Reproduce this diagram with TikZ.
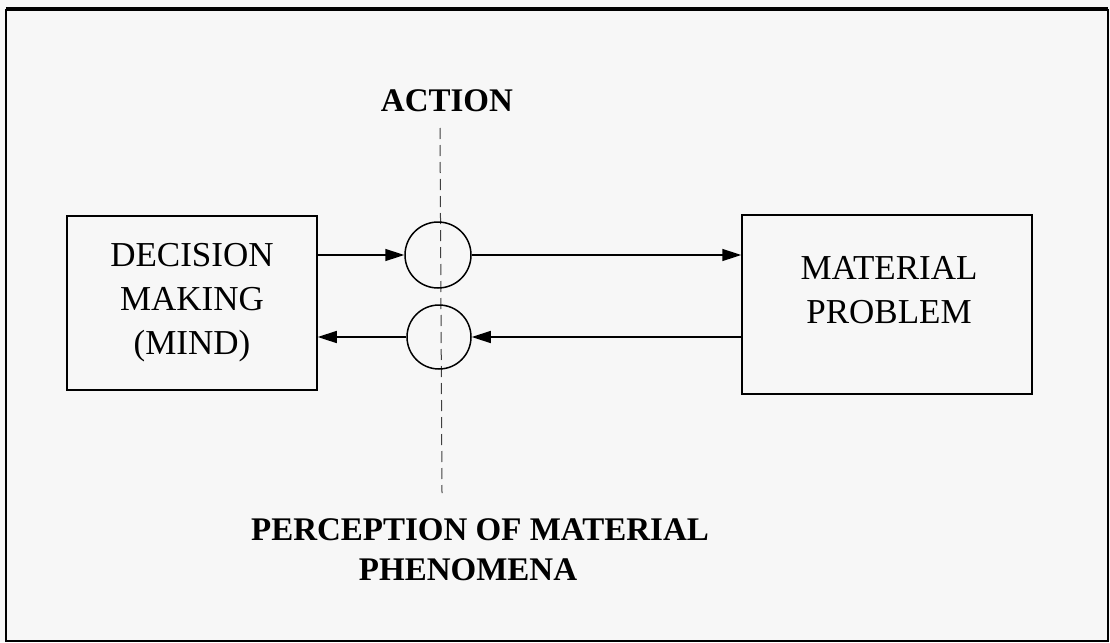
\documentclass[tikz,border=0pt]{standalone}
\usepackage{fontspec}
\setmainfont{Liberation Serif}
\usetikzlibrary{arrows.meta}
\begin{document}
\begin{tikzpicture}[x=1pt,y=-1pt,
  regtext/.style={font=\fontsize{35}{44}\selectfont, align=center},
  boldtext/.style={font=\fontsize{33}{40}\selectfont\bfseries},
  boxnode/.style={draw, line width=1.5pt, inner sep=0pt},
  ring/.style={draw, circle, line width=1.5pt, inner sep=0pt},
  arr/.style={line width=1.5pt, -{Triangle[length=19pt,width=12pt]}},
  dashline/.style={line width=1pt, black!75, dash pattern=on 11pt off 6pt}]
\useasboundingbox (0,0) rectangle (1110,642);
\fill[black!3] (0,0) rectangle (1110,642);
% outer frame
\draw[line width=2pt] (6,10) rectangle (1108,641);
\draw[line width=3.5pt] (6,9) -- (1108,9);
% dashed boundary
\coordinate (dtop) at (440,128);
\coordinate (dbot) at (442,493);
\draw[dashline] (dtop) -- (dbot);
% boxes
\node[boxnode, regtext, minimum width=250pt, minimum height=174pt] (lbox) at (192,303) {DECISION\\MAKING\\(MIND)};
\node[boxnode, minimum width=290pt, minimum height=179pt] (rbox) at (887,304.5) {};
\node[regtext] (rtext) at (889,290) {MATERIAL\\PROBLEM};
% circles
\node[ring, minimum size=66pt] (c1) at (438,255) {};
\node[ring, minimum size=64pt] (c2) at (439,337) {};
% arrows
\draw[arr] (lbox.east |- c1.west) -- (c1.west);
\draw[arr] (c1.east) -- (rbox.west |- c1.east);
\draw[arr] (rbox.west |- c2.east) -- (c2.east);
\draw[arr] (c2.west) -- (lbox.east |- c2.west);
% labels
\node[boldtext, anchor=base] (action) at (447,111) {ACTION};
\node[boldtext, anchor=base] (perc1) at (480,540) {PERCEPTION OF MATERIAL};
\node[boldtext, anchor=base] (perc2) at (468,580) {PHENOMENA};
\end{tikzpicture}
\end{document}
